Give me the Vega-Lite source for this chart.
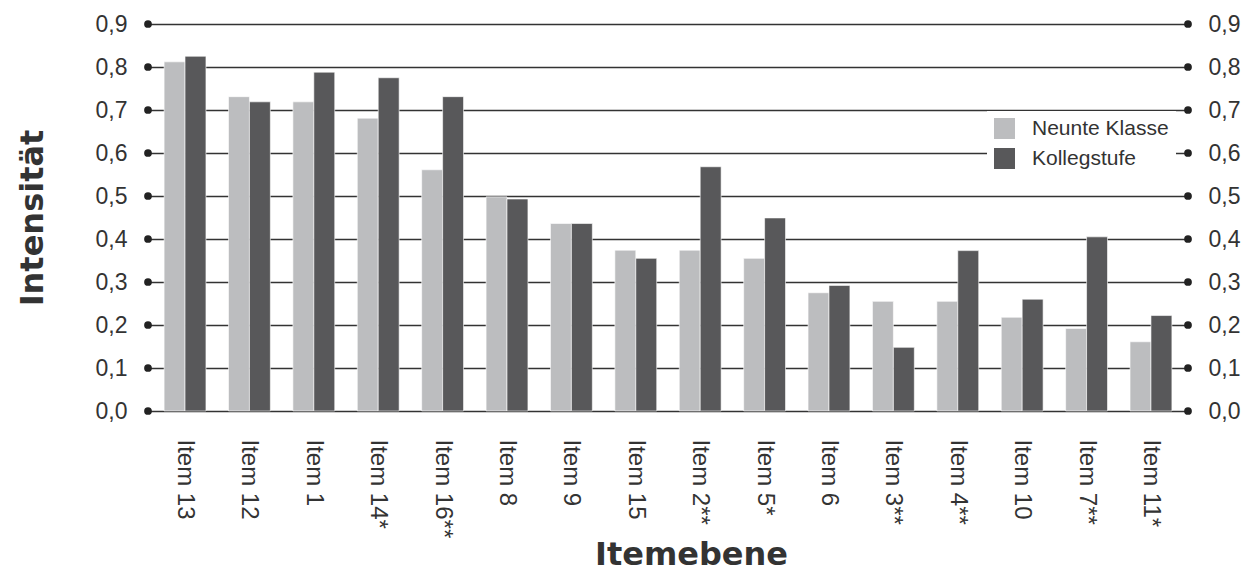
{
  "$schema": "https://vega.github.io/schema/vega-lite/v6.json",
  "width": 1040,
  "height": 387,
  "autosize": {"type": "none"},
  "padding": {"left": 148, "top": 24, "right": 64, "bottom": 163},
  "background": "white",
  "config": {
    "view": {"stroke": null},
    "font": "Liberation Sans",
    "axis": {"labelColor": "#333333", "titleColor": "#333333"}
  },
  "datasets": {
    "bars": [
      {"item": "Item 13", "gruppe": "Neunte Klasse", "wert": 0.812},
      {"item": "Item 13", "gruppe": "Kollegstufe", "wert": 0.825},
      {"item": "Item 12", "gruppe": "Neunte Klasse", "wert": 0.731},
      {"item": "Item 12", "gruppe": "Kollegstufe", "wert": 0.719},
      {"item": "Item 1", "gruppe": "Neunte Klasse", "wert": 0.719},
      {"item": "Item 1", "gruppe": "Kollegstufe", "wert": 0.788},
      {"item": "Item 14*", "gruppe": "Neunte Klasse", "wert": 0.681},
      {"item": "Item 14*", "gruppe": "Kollegstufe", "wert": 0.775},
      {"item": "Item 16**", "gruppe": "Neunte Klasse", "wert": 0.561},
      {"item": "Item 16**", "gruppe": "Kollegstufe", "wert": 0.731},
      {"item": "Item 8", "gruppe": "Neunte Klasse", "wert": 0.498},
      {"item": "Item 8", "gruppe": "Kollegstufe", "wert": 0.493},
      {"item": "Item 9", "gruppe": "Neunte Klasse", "wert": 0.436},
      {"item": "Item 9", "gruppe": "Kollegstufe", "wert": 0.436},
      {"item": "Item 15", "gruppe": "Neunte Klasse", "wert": 0.374},
      {"item": "Item 15", "gruppe": "Kollegstufe", "wert": 0.355},
      {"item": "Item 2**", "gruppe": "Neunte Klasse", "wert": 0.374},
      {"item": "Item 2**", "gruppe": "Kollegstufe", "wert": 0.568},
      {"item": "Item 5*", "gruppe": "Neunte Klasse", "wert": 0.355},
      {"item": "Item 5*", "gruppe": "Kollegstufe", "wert": 0.449},
      {"item": "Item 6", "gruppe": "Neunte Klasse", "wert": 0.275},
      {"item": "Item 6", "gruppe": "Kollegstufe", "wert": 0.292},
      {"item": "Item 3**", "gruppe": "Neunte Klasse", "wert": 0.255},
      {"item": "Item 3**", "gruppe": "Kollegstufe", "wert": 0.148},
      {"item": "Item 4**", "gruppe": "Neunte Klasse", "wert": 0.255},
      {"item": "Item 4**", "gruppe": "Kollegstufe", "wert": 0.373},
      {"item": "Item 10", "gruppe": "Neunte Klasse", "wert": 0.218},
      {"item": "Item 10", "gruppe": "Kollegstufe", "wert": 0.26},
      {"item": "Item 7**", "gruppe": "Neunte Klasse", "wert": 0.192},
      {"item": "Item 7**", "gruppe": "Kollegstufe", "wert": 0.405},
      {"item": "Item 11*", "gruppe": "Neunte Klasse", "wert": 0.161},
      {"item": "Item 11*", "gruppe": "Kollegstufe", "wert": 0.222}
    ],
    "ticks": [
      {"v": 0.0}, {"v": 0.1}, {"v": 0.2}, {"v": 0.3}, {"v": 0.4},
      {"v": 0.5}, {"v": 0.6}, {"v": 0.7}, {"v": 0.8}, {"v": 0.9}
    ]
  },
  "layer": [
    {
      "data": {"name": "bars"},
      "mark": {"type": "bar", "stroke": "#ffffff", "strokeWidth": 0.6},
      "encoding": {
        "x": {
          "field": "item", "type": "nominal", "sort": null,
          "scale": {"paddingInner": 0.35, "paddingOuter": 0.25},
          "axis": {
            "title": "Itemebene", "titleFont": "DejaVu Sans", "titleFontSize": 32, "titleFontWeight": "bold",
            "titleX": 543, "titleY": 153, "titleBaseline": "alphabetic",
            "labelAngle": 90, "labelFontSize": 24, "labelPadding": 28,
            "ticks": false, "domain": false
          }
        },
        "xOffset": {"field": "gruppe", "type": "nominal", "scale": {"domain": ["Neunte Klasse", "Kollegstufe"]}},
        "y": {
          "field": "wert", "type": "quantitative",
          "scale": {"domain": [0, 0.9]},
          "axis": {
            "orient": "left", "values": [0, 0.1, 0.2, 0.3, 0.4, 0.5, 0.6, 0.7, 0.8, 0.9],
            "labelExpr": "replace(format(datum.value, '.1f'), '.', ',')",
            "labelFontSize": 23, "labelPadding": 21, "ticks": false, "domain": false,
            "grid": true, "gridColor": "#333333", "gridWidth": 1.6,
            "title": "Intensität", "titleFont": "DejaVu Sans", "titleFontSize": 32, "titleFontWeight": "bold",
            "titleX": -106, "titleBaseline": "alphabetic"
          }
        },
        "color": {
          "field": "gruppe", "type": "nominal",
          "scale": {"domain": ["Neunte Klasse", "Kollegstufe"], "range": ["#bcbdbf", "#58585a"]},
          "legend": {
            "title": null, "orient": "none", "legendX": 839, "legendY": 87,
            "fillColor": "white", "padding": 7,
            "symbolType": "square", "symbolSize": 441, "symbolStrokeWidth": 0, "symbolOpacity": 1,
            "labelFontSize": 21, "labelColor": "#333333", "labelOffset": 17, "rowPadding": 8
          }
        }
      }
    },
    {
      "data": {"name": "ticks"},
      "mark": {"type": "point", "filled": true, "size": 60, "color": "#222222", "opacity": 1},
      "encoding": {
        "x": {"datum": 0, "type": "quantitative", "scale": {"domain": [0, 1]}, "axis": null},
        "y": {"field": "v", "type": "quantitative", "scale": {"domain": [0, 0.9]}, "axis": null}
      }
    },
    {
      "data": {"name": "ticks"},
      "mark": {"type": "point", "filled": true, "size": 60, "color": "#222222", "opacity": 1},
      "encoding": {
        "x": {"datum": 1, "type": "quantitative", "scale": {"domain": [0, 1]}, "axis": null},
        "y": {
          "field": "v", "type": "quantitative", "scale": {"domain": [0, 0.9]},
          "axis": {
            "orient": "right", "values": [0, 0.1, 0.2, 0.3, 0.4, 0.5, 0.6, 0.7, 0.8, 0.9],
            "labelExpr": "replace(format(datum.value, '.1f'), '.', ',')",
            "labelFontSize": 23, "labelPadding": 20, "ticks": false, "domain": false,
            "grid": false, "title": null
          }
        }
      }
    }
  ],
  "resolve": {"scale": {"x": "independent"}, "axis": {"y": "independent"}}
}
